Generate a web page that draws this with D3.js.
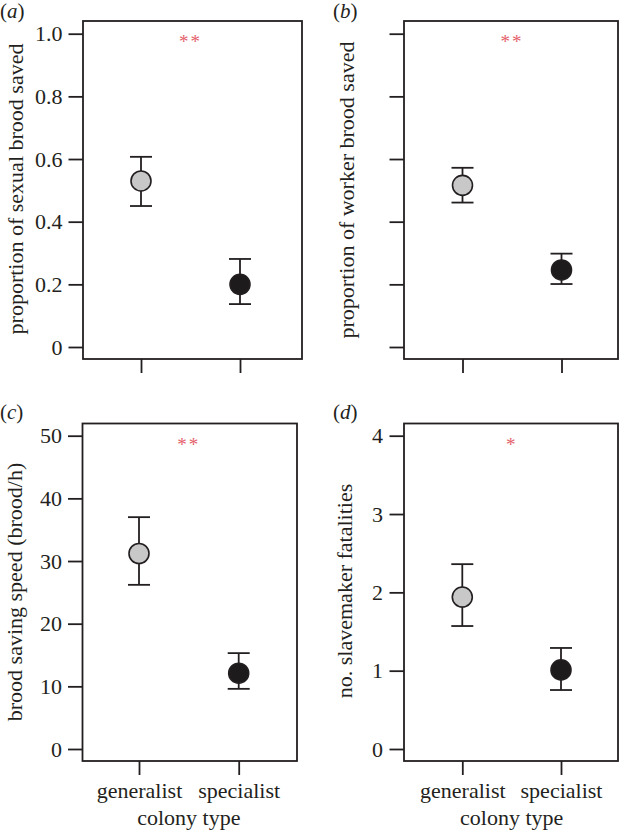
<!DOCTYPE html>
<html>
<head>
<meta charset="utf-8">
<script src="https://cdn.jsdelivr.net/npm/d3@7"></script>
<style>
  html, body { margin: 0; padding: 0; background: #fff; }
  svg text { font-family: "Liberation Serif", "Times New Roman", serif; fill: #231f20; }
</style>
</head>
<body>
<div id="chart"></div>
<script>
// categories on the x axis
const categories = ["generalist", "specialist"];

// (a) proportion of sexual brood saved
const sexualMean = [0.53, 0.20];
const sexualLow = [0.45, 0.137];
const sexualHigh = [0.607, 0.281];

// (b) proportion of worker brood saved
const workerMean = [0.516, 0.246];
const workerLow = [0.461, 0.201];
const workerHigh = [0.572, 0.298];

// (c) brood saving speed
const speedMean = [31.2, 12.1];
const speedLow = [26.2, 9.6];
const speedHigh = [37.0, 15.3];

// (d) slavemaker fatalities
const fatalMean = [1.94, 1.01];
const fatalLow = [1.57, 0.753];
const fatalHigh = [2.36, 1.29];

// tick values
const propTicks = [0, 0.2, 0.4, 0.6, 0.8, 1.0];
const propTickLabels = ["0", "0.2", "0.4", "0.6", "0.8", "1.0"];
const speedTicks = [0, 10, 20, 30, 40, 50];
const fatalTicks = [0, 1, 2, 3, 4];

// significance stars
const stars = ["**", "**", "**", "*"];

const pointFill = ["#c8c8c8", "#1e1b1c"];
const ink = "#231f20";

const width = 620, height = 834;

const svg = d3.select("#chart")
    .append("svg")
    .attr("width", width)
    .attr("height", height);

function drawPanel(p) {
  const g = svg.append("g").attr("class", "panel");

  // scales
  const x = d3.scalePoint().domain(categories).range(p.xRange);
  const y = d3.scaleLinear().domain(p.yDomain).range(p.yRange);

  const rows = categories.map((c, i) => ({
    cat: c, mean: p.mean[i], low: p.low[i], high: p.high[i], fill: pointFill[i]
  }));

  // box
  g.append("rect")
      .attr("x", p.box.l)
      .attr("y", p.box.t)
      .attr("width", p.box.r - p.box.l)
      .attr("height", p.box.b - p.box.t)
      .attr("fill", "none")
      .attr("stroke", ink)
      .attr("stroke-width", 1.8);

  // y axis
  const yAxis = d3.axisLeft(y)
      .tickValues(p.yTicks)
      .tickSize(14.5)
      .tickPadding(p.tickPad)
      .tickFormat((d, i) => p.yLabels ? p.yLabels[i] : "");
  const ya = g.append("g")
      .attr("transform", "translate(" + p.box.l + ",0)")
      .call(yAxis);
  ya.select(".domain").remove();
  ya.selectAll("line").attr("stroke", ink).attr("stroke-width", 1.8);
  ya.selectAll("text").style("font-size", "22px").attr("fill", ink);

  // x axis
  const xAxis = d3.axisBottom(x)
      .tickSize(14)
      .tickPadding(7.5)
      .tickFormat(d => p.showX ? d : "");
  const xa = g.append("g")
      .attr("transform", "translate(0," + p.box.b + ")")
      .call(xAxis);
  xa.select(".domain").remove();
  xa.selectAll("line").attr("stroke", ink).attr("stroke-width", 1.8);
  xa.selectAll("text").style("font-size", "22px").attr("fill", ink);

  if (p.showX) {
    g.append("text")
        .attr("x", (p.xRange[0] + p.xRange[1]) / 2)
        .attr("y", 825)
        .attr("text-anchor", "middle")
        .style("font-size", "22px")
        .text("colony type");
  }

  // y label
  g.append("text")
      .attr("transform", "translate(" + p.yLabelX + "," + p.yLabelY + ") rotate(-90)")
      .attr("text-anchor", "middle")
      .style("font-size", "22px")
      .text(p.yTitle);

  // panel letter
  const lt = g.append("text")
      .attr("x", p.letterX)
      .attr("y", p.letterY)
      .style("font-size", "21px");
  lt.append("tspan").text("(");
  lt.append("tspan").style("font-style", "italic").text(p.letter);
  lt.append("tspan").text(")");

  // stars
  g.append("text")
      .attr("x", (p.xRange[0] + p.xRange[1]) / 2)
      .attr("y", p.box.t + 27)
      .attr("text-anchor", "middle")
      .style("font-size", "19px")
      .style("letter-spacing", "2px")
      .style("fill", "#e4606a")
      .text(p.stars);

  // error bars
  const bars = g.selectAll(".err").data(rows).join("g").attr("class", "err");
  bars.append("line")
      .attr("x1", d => x(d.cat)).attr("x2", d => x(d.cat))
      .attr("y1", d => y(d.high)).attr("y2", d => y(d.low));
  bars.append("line")
      .attr("x1", d => x(d.cat) - 11).attr("x2", d => x(d.cat) + 11)
      .attr("y1", d => y(d.high)).attr("y2", d => y(d.high));
  bars.append("line")
      .attr("x1", d => x(d.cat) - 11).attr("x2", d => x(d.cat) + 11)
      .attr("y1", d => y(d.low)).attr("y2", d => y(d.low));
  bars.selectAll("line").attr("stroke", ink).attr("stroke-width", 1.8);

  // points
  g.selectAll(".pt").data(rows).join("circle")
      .attr("class", "pt")
      .attr("cx", d => x(d.cat))
      .attr("cy", d => y(d.mean))
      .attr("r", 10)
      .attr("fill", d => d.fill)
      .attr("stroke", ink)
      .attr("stroke-width", 1.6);
}

drawPanel({
  letter: "a", letterX: 0, letterY: 18, stars: stars[0],
  box: { l: 83, r: 302, t: 21, b: 359 },
  xRange: [141, 240], yDomain: [0, 1], yRange: [347, 33.7],
  yTicks: propTicks, yLabels: propTickLabels, tickPad: 6,
  mean: sexualMean, low: sexualLow, high: sexualHigh,
  yTitle: "proportion of sexual brood saved", yLabelX: 23, yLabelY: 189,
  showX: false
});

drawPanel({
  letter: "b", letterX: 333, letterY: 18, stars: stars[1],
  box: { l: 404, r: 618, t: 21, b: 359 },
  xRange: [462.5, 561.5], yDomain: [0, 1], yRange: [347, 33.7],
  yTicks: propTicks, yLabels: null, tickPad: 6,
  mean: workerMean, low: workerLow, high: workerHigh,
  yTitle: "proportion of worker brood saved", yLabelX: 354, yLabelY: 190,
  showX: false
});

drawPanel({
  letter: "c", letterX: 0, letterY: 419, stars: stars[2],
  box: { l: 82.5, r: 297, t: 423.5, b: 761 },
  xRange: [139, 238.7], yDomain: [0, 50], yRange: [749, 435.7],
  yTicks: speedTicks, yLabels: speedTicks.map(String), tickPad: 6,
  mean: speedMean, low: speedLow, high: speedHigh,
  yTitle: "brood saving speed (brood/h)", yLabelX: 22, yLabelY: 592,
  showX: true
});

drawPanel({
  letter: "d", letterX: 333, letterY: 419, stars: stars[3],
  box: { l: 404, r: 618, t: 423.5, b: 761 },
  xRange: [462.3, 561], yDomain: [0, 4], yRange: [749, 435.7],
  yTicks: fatalTicks, yLabels: fatalTicks.map(String), tickPad: 6.5,
  mean: fatalMean, low: fatalLow, high: fatalHigh,
  yTitle: "no. slavemaker fatalities", yLabelX: 352, yLabelY: 591,
  showX: true
});
</script>
</body>
</html>
